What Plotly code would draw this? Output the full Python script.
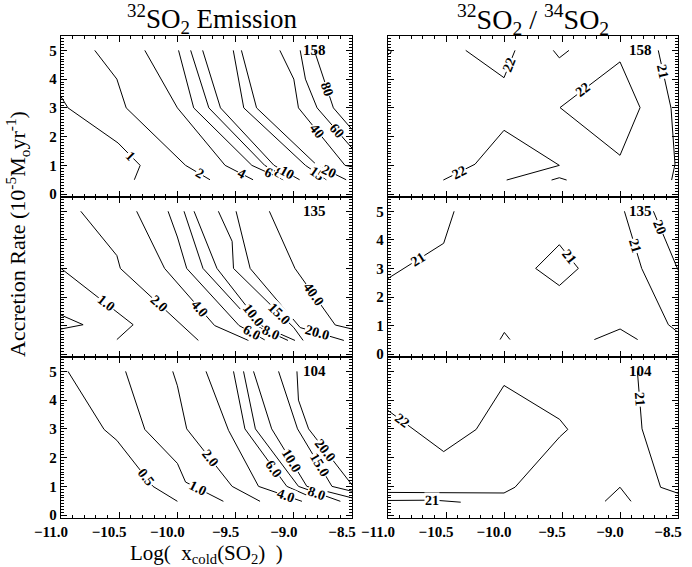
import math
import plotly.graph_objects as go

# ---------------- data ----------------
XTICKS = [-11.0, -10.5, -10.0, -9.5, -9.0, -8.5]
YTICKS = [0, 1, 2, 3, 4, 5]
PANEL_TAGS = ["158", "135", "104"]

# Each contour: (label text or "", x list, y list)
EM158 = [
    ("1", [-11.0, -10.94, -10.51, -10.32, -10.37], [3.39, 3.0, 1.78, 1.0, 0.5]),
    ("2", [-10.71, -10.52, -10.44, -9.93, -9.72], [5.0, 4.0, 3.0, 1.0, 0.5]),
    ("4", [-10.28, -10.0, -9.59, -9.35], [5.0, 3.0, 1.0, 0.5]),
    ("6", [-9.99, -9.86, -9.36, -9.09], [5.0, 3.0, 1.0, 0.5]),
    ("8", [-9.886, -9.73, -9.25, -9.03], [5.0, 3.0, 1.0, 0.5]),
    ("10", [-9.783, -9.63, -9.17, -8.95], [5.0, 3.0, 1.0, 0.5]),
    ("15", [-9.52, -9.43, -8.90, -8.72], [5.0, 3.0, 1.0, 0.5]),
    ("20", [-9.45, -9.32, -8.80, -8.55], [5.0, 3.0, 1.0, 0.5]),
    ("40", [-9.12, -9.0, -8.96, -8.56, -8.5], [5.0, 4.0, 3.0, 1.0, 0.95]),
    ("60", [-8.945, -8.90, -8.80, -8.5], [5.0, 4.0, 3.0, 1.6]),
    ("80", [-8.824, -8.66, -8.5], [5.0, 3.0, 2.25]),
]
RA158 = [
    ("", [-11.0, -10.97, -11.0], [5.05, 4.95, 4.85]),
    ("22", [-10.33, -10.0, -9.905], [5.0, 4.05, 5.0]),
    ("", [-9.575, -9.523, -9.44], [5.0, 4.74, 5.0]),
    ("22", [-9.517, -9.0, -8.827, -9.0, -9.517], [3.01, 4.6, 3.01, 1.35, 3.01]),
    ("22", [-10.523, -10.25, -10.0, -9.523, -9.977], [0.49, 1.04, 2.22, 1.0, 0.49]),
    ("", [-9.59, -9.523, -9.46], [0.49, 0.57, 0.49]),
    ("21", [-8.67, -8.56, -8.526, -8.555], [5.0, 2.99, 1.04, 0.49]),
]
EM135 = [
    ("1.0", [-11.0, -10.38, -10.52], [3.0, 1.03, 0.51]),
    ("", [-11.0, -10.81, -11.0], [1.37, 1.03, 0.88]),
    ("2.0", [-10.83, -10.52, -10.49, -9.82], [5.0, 3.45, 3.0, 0.48]),
    ("4.0", [-10.35, -10.11, -9.68, -9.39], [5.0, 3.0, 1.0, 0.48]),
    ("6.0", [-10.08, -10.0, -9.92, -9.47, -9.25], [5.0, 4.1, 3.0, 1.0, 0.5]),
    ("8.0", [-9.943, -9.78, -9.33, -9.05], [5.0, 3.0, 1.0, 0.48]),
    ("10.0", [-9.857, -9.66, -9.275, -8.99], [5.0, 3.0, 0.99, 0.48]),
    ("15.0", [-9.648, -9.53, -9.518, -9.0, -8.92], [5.0, 3.95, 3.0, 0.93, 0.48]),
    ("20.0", [-9.496, -9.375, -8.945, -8.57], [5.0, 3.0, 0.93, 0.48]),
    ("40.0", [-9.21, -8.99, -8.644, -8.5], [5.0, 3.0, 1.02, 0.88]),
]
RA135 = [
    ("21", [-11.0, -10.52, -10.43], [2.65, 3.88, 5.0]),
    ("21", [-9.727, -9.523, -9.359, -9.523, -9.727], [3.0, 3.83, 3.0, 2.40, 3.0]),
    ("", [-10.034, -9.997, -9.948], [0.51, 0.76, 0.51]),
    ("", [-9.221, -8.999, -8.848], [0.51, 0.88, 0.51]),
    ("21", [-8.962, -8.813, -8.583, -8.51], [5.0, 3.0, 1.03, 0.8]),
    ("20", [-8.712, -8.5], [5.0, 2.95]),
]
EM104 = [
    ("0.5", [-10.94, -10.63, -10.52, -10.32, -10.21, -10.0], [5.0, 2.98, 2.6, 1.58, 1.0, 0.48]),
    ("1.0", [-10.445, -10.28, -10.0, -9.93, -9.605], [5.0, 2.98, 1.8, 1.15, 0.48]),
    ("2.0", [-10.04, -10.0, -9.92, -9.53, -9.29], [5.0, 4.5, 3.0, 1.0, 0.48]),
    ("4.0", [-9.754, -9.561, -9.303, -8.93], [5.0, 2.95, 1.0, 0.48]),
    ("6.0", [-9.518, -9.42, -9.06, -8.77], [5.0, 3.0, 1.0, 0.48]),
    ("8.0", [-9.432, -9.33, -8.96, -8.6], [5.0, 3.0, 1.0, 0.48]),
    ("10.0", [-9.346, -9.19, -8.888, -8.5], [5.0, 3.0, 1.0, 0.6]),
    ("15.0", [-9.131, -9.05, -8.968, -8.672, -8.5], [5.0, 4.0, 3.0, 1.0, 0.83]),
    ("20.0", [-8.973, -8.96, -8.873, -8.5], [5.0, 4.0, 3.0, 1.05]),
]
RA104 = [
    ("22", [-11.0, -10.52, -10.24, -10.0, -9.52, -9.45, -9.52, -9.905, -10.0, -11.0],
           [3.64, 2.21, 2.98, 4.51, 3.33, 2.98, 2.72, 0.97, 0.77, 0.79]),
    ("21", [-11.0, -10.6, -10.373], [0.51, 0.52, 0.45]),
    ("", [-9.129, -9.0, -8.905], [0.48, 0.97, 0.48]),
    ("21", [-8.85, -8.81, -8.65, -8.5], [5.0, 3.0, 0.97, 0.76]),
]

# approximate data point of each label, in order of the labelled lines of each panel
LABELS_EM158 = [(-10.40, 1.32), (-9.80, 0.75), (-9.45, 0.72), (-9.22, 0.74), (-9.13, 0.78),
                (-9.06, 0.76), (-8.80, 0.72), (-8.70, 0.78), (-8.80, 2.18), (-8.64, 2.19), (-8.73, 3.62)]
LABELS_RA158 = [(-9.95, 4.5), (-9.32, 3.65), (-10.385, 0.76), (-8.655, 4.25)]
LABELS_EM135 = [(-10.61, 1.76), (-10.16, 1.76), (-9.81, 1.6), (-9.36, 0.76), (-9.20, 0.76),
                (-9.35, 1.34), (-9.12, 1.40), (-8.80, 0.76), (-8.83, 2.08)]
LABELS_RA135 = [(-10.74, 3.3), (-9.44, 3.41), (-8.87, 3.8), (-8.655, 4.45)]
LABELS_EM104 = [(-10.27, 1.3), (-9.82, 0.93), (-9.72, 1.95), (-9.07, 0.68), (-9.17, 1.6),
                (-8.8, 0.77), (-9.0, 1.95), (-8.78, 1.75), (-8.73, 2.25)]
LABELS_RA104 = [(-10.88, 3.28), (-10.62, 0.515), (-8.83, 4.05)]

PANELS = [
    (EM158, LABELS_EM158, 0), (RA158, LABELS_RA158, 0),
    (EM135, LABELS_EM135, 1), (RA135, LABELS_RA135, 1),
    (EM104, LABELS_EM104, 2), (RA104, LABELS_RA104, 2),
]

# ---------------- layout geometry ----------------
W, H = 692, 567
XDOM = [[61 / W, 352 / W], [388 / W, 678 / W]]
YDOM = [[1 - 197 / H, 1 - 36 / H], [1 - 357 / H, 1 - 197 / H], [1 - 518 / H, 1 - 357 / H]]
XR = [-11.0, -8.5]
YR = [-0.1, 5.5]
SX = 291 / (XR[1] - XR[0])
SY = 161 / (YR[1] - YR[0])

SERIF = "Liberation Serif"


def place(xs, ys, lx, ly):
    best = None
    for i in range(len(xs) - 1):
        ax, ay = xs[i] * SX, ys[i] * SY
        bx, by = xs[i + 1] * SX, ys[i + 1] * SY
        px, py = lx * SX, ly * SY
        dx, dy = bx - ax, by - ay
        L2 = dx * dx + dy * dy
        t = 0.0 if L2 == 0 else max(0.0, min(1.0, ((px - ax) * dx + (py - ay) * dy) / L2))
        qx, qy = ax + t * dx, ay + t * dy
        d = (qx - px) ** 2 + (qy - py) ** 2
        if best is None or d < best[0]:
            ang = math.degrees(math.atan2(-dy, dx))
            best = (d, qx / SX, qy / SY, ang)
    _, x, y, ang = best
    while ang > 90:
        ang -= 180
    while ang <= -90:
        ang += 180
    return x, y, ang


fig = go.Figure()
annotations = []

for k, (lines, labpos, row) in enumerate(PANELS):
    col = k % 2
    n = k + 1
    xa = "x" if n == 1 else f"x{n}"
    ya = "y" if n == 1 else f"y{n}"
    li = 0
    for text, xs, ys in lines:
        fig.add_trace(go.Scatter(x=xs, y=ys, mode="lines", xaxis=xa, yaxis=ya,
                                 line=dict(color="black", width=1), showlegend=False,
                                 hoverinfo="skip"))
        if text:
            lx, ly = labpos[li]
            li += 1
            px, py, ang = place(xs, ys, lx, ly)
            annotations.append(dict(x=px, y=py, xref=xa, yref=ya, text=text, showarrow=False,
                                    textangle=ang, bgcolor="white", borderpad=0,
                                    font=dict(family=SERIF, size=14, color="black", weight="bold"),
                                    xanchor="center", yanchor="middle"))
    annotations.append(dict(x=-8.82, y=5.0, xref=xa, yref=ya, text=PANEL_TAGS[row], showarrow=False,
                            font=dict(family=SERIF, size=15, color="black", weight="bold"),
                            xanchor="center", yanchor="middle"))

    axis_common = dict(showline=True, linecolor="black", linewidth=1.3, mirror="allticks",
                       ticks="inside", tickcolor="black", tickwidth=1, showgrid=False,
                       zeroline=False, automargin=False,
                       tickfont=dict(family=SERIF, size=15, color="black", weight="bold"))
    xkey = "xaxis" if n == 1 else f"xaxis{n}"
    ykey = "yaxis" if n == 1 else f"yaxis{n}"
    fig.layout[xkey] = dict(axis_common, domain=XDOM[col], range=XR, anchor=ya,
                            tickvals=XTICKS, tickformat=".1f", ticklen=6,
                            showticklabels=(row == 2), ticklabelshift=-10,
                            minor=dict(ticks="inside", dtick=0.1, ticklen=3, tickcolor="black"))
    show_y = (col == 0 and row in (0, 2)) or (col == 1 and row == 1)
    fig.layout[ykey] = dict(axis_common, domain=YDOM[row], range=YR, anchor=xa,
                            tickvals=YTICKS, ticklen=6, showticklabels=show_y,
                            minor=dict(ticks="inside", dtick=0.1, ticklen=3, tickcolor="black"))

# titles
annotations += [
    dict(x=212 / W, y=1 - 19 / H, xref="paper", yref="paper", showarrow=False,
         text="<sup>32</sup>SO<sub>2</sub> Emission",
         font=dict(family=SERIF, size=27, color="black"), xanchor="center", yanchor="middle"),
    dict(x=533 / W, y=1 - 19 / H, xref="paper", yref="paper", showarrow=False,
         text="<sup>32</sup>SO<sub>2</sub> / <sup>34</sup>SO<sub>2</sub>",
         font=dict(family=SERIF, size=28, color="black"), xanchor="center", yanchor="middle"),
    dict(x=206 / W, y=1 - 554 / H, xref="paper", yref="paper", showarrow=False,
         text="Log(  x<sub>cold</sub>(SO<sub>2</sub>)  )",
         font=dict(family=SERIF, size=21, color="black"), xanchor="center", yanchor="middle"),
    dict(x=17 / W, y=1 - 234 / H, xref="paper", yref="paper", showarrow=False, textangle=-90,
         text="Accretion Rate (10<sup>-5</sup>M<sub>o</sub>yr<sup>-1</sup>)",
         font=dict(family=SERIF, size=22, color="black"), xanchor="center", yanchor="middle"),
]

fig.update_layout(template="none", width=W, height=H, margin=dict(l=0, r=0, t=0, b=0, pad=0),
                  plot_bgcolor="white", paper_bgcolor="white", annotations=annotations,
                  showlegend=False)

fig.write_html("out.html", config={"displayModeBar": False},
               post_script="document.body.style.margin='0';")
